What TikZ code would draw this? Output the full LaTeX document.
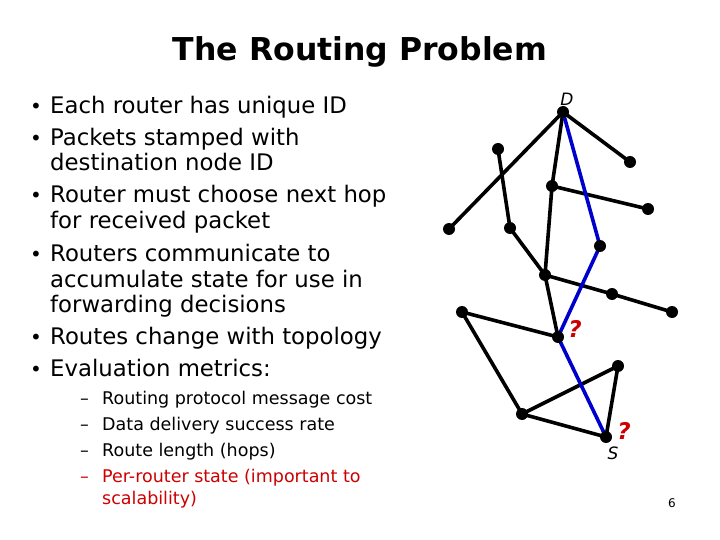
\documentclass[tikz,border=0pt]{standalone}
\usepackage{fontspec}
\setmainfont{DejaVu Sans}
\definecolor{rred}{RGB}{204,0,0}
\definecolor{rblue}{RGB}{0,0,204}
\begin{document}
\begin{tikzpicture}[x=1pt,y=-1pt,
  dot/.style={circle,fill=black,inner sep=0pt,minimum size=12pt},
  edge/.style={line width=3.6pt,black},
  route/.style={line width=3.6pt,rblue},
  btxt/.style={anchor=base west,font=\fontsize{22.8}{22.8}\selectfont,inner sep=0pt},
  stxt/.style={anchor=base west,font=\fontsize{17.5}{17.5}\selectfont,inner sep=0pt}]
\useasboundingbox (0,0) rectangle (720,540);
% title
\node[font=\fontsize{31.5}{31.5}\selectfont\bfseries] (title) at (360,52) {The Routing Problem};
% bullets
\foreach \y/\t [count=\i] in {114/Each router has unique ID, 146/Packets stamped with, 203/Router must choose next hop, 261/Routers communicate to, 344/Routes change with topology, 376/Evaluation metrics:}{
  \node[btxt,font=\fontsize{20}{20}\selectfont] (bu\i) at (30,\y) {•};
  \node[btxt] (bt\i) at (50,\y) {\t};
}
\node[btxt] (c1) at (50,171) {destination node ID};
\node[btxt] (c2) at (50,229) {for received packet};
\node[btxt] (c3) at (50,287) {accumulate state for use in};
\node[btxt] (c4) at (50,312) {forwarding decisions};
\foreach \y/\t [count=\i] in {404/Routing protocol message cost, 430/Data delivery success rate, 456/Route length (hops)}{
  \node[stxt] (sd\i) at (80,\y) {–};
  \node[stxt] (st\i) at (102,\y) {\t};
}
\node[stxt,rred] (sd4) at (80,482) {–};
\node[stxt,rred] (st4) at (102,482) {Per-router state (important to};
\node[stxt,rred] (st5) at (102,504) {scalability)};
\node[font=\fontsize{12}{12}\selectfont] (pg) at (672,503) {6};
% graph
\coordinate (D) at (563,112);
\coordinate (a) at (498,149);
\coordinate (b) at (630,162);
\coordinate (c) at (552,186);
\coordinate (d) at (648,209);
\coordinate (e) at (449,229);
\coordinate (f) at (510,228);
\coordinate (g) at (600,246);
\coordinate (h) at (545,275);
\coordinate (i) at (612,294);
\coordinate (j) at (672,312);
\coordinate (k) at (462,312);
\coordinate (q) at (558,337);
\coordinate (m) at (618,366);
\coordinate (n) at (522,414);
\coordinate (S) at (606,437);
\draw[edge] (D) -- (e);
\draw[edge] (D) -- (b);
\draw[edge] (D) -- (c);
\draw[edge] (a) -- (f);
\draw[edge] (c) -- (d);
\draw[edge] (c) -- (h);
\draw[edge] (f) -- (h);
\draw[edge] (h) -- (i) -- (j);
\draw[edge] (h) -- (q);
\draw[edge] (k) -- (q);
\draw[edge] (k) -- (n);
\draw[edge] (n) -- (m);
\draw[edge] (n) -- (S);
\draw[edge] (m) -- (S);
\draw[route] (D) -- (g) -- (q) -- (S);
\foreach \p in {D,a,b,c,d,e,f,g,h,i,j,k,q,m,n,S}
  \node[dot] (dot\p) at (\p) {};
\node[font=\fontsize{17}{17}\selectfont\itshape] (lD) at (567,99) {D};
\node[font=\fontsize{17}{17}\selectfont\itshape] (lS) at (613,453) {S};
\node[font=\fontsize{23}{23}\selectfont\itshape\bfseries,rred] (q1) at (575,329) {?};
\node[font=\fontsize{23}{23}\selectfont\itshape\bfseries,rred] (q2) at (624,431) {?};
\end{tikzpicture}
\end{document}
